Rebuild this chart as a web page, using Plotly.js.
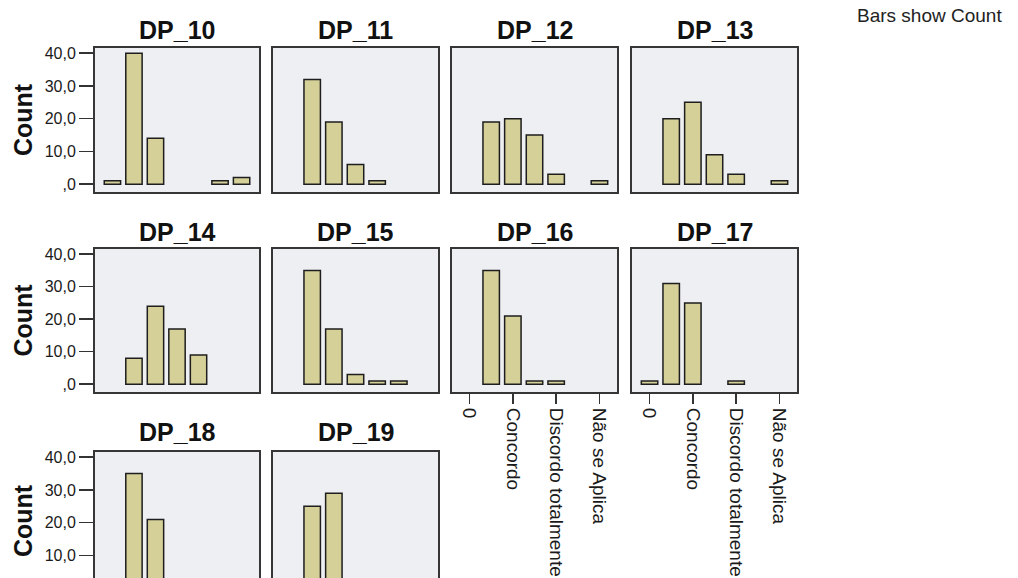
<!DOCTYPE html>
<html>
<head>
<meta charset="utf-8">
<script src="https://cdn.plot.ly/plotly-3.0.1.min.js"></script>
<style>
  html, body { margin: 0; padding: 0; background: #ffffff; overflow: hidden; }
  #chart { width: 1018px; height: 760px; }
</style>
</head>
<body>
<div id="chart"></div>
<script>
// ---- data (counts per response category) ----
const categories = ["0", "Concordo totalmente", "Concordo", "Indiferente", "Discordo totalmente", "Discordo", "Não se Aplica"];
const panelNames = ["DP_10", "DP_11", "DP_12", "DP_13", "DP_14", "DP_15", "DP_16", "DP_17", "DP_18", "DP_19"];
const DP_10 = [1, 40, 14, null, null, 1, 2];
const DP_11 = [null, 32, 19, 6, 1, null, null];
const DP_12 = [null, 19, 20, 15, 3, null, 1];
const DP_13 = [null, 20, 25, 9, 3, null, 1];
const DP_14 = [null, 8, 24, 17, 9, null, null];
const DP_15 = [null, 35, 17, 3, 1, 1, null];
const DP_16 = [null, 35, 21, 1, 1, null, null];
const DP_17 = [1, 31, 25, null, 1, null, null];
const DP_18 = [null, 35, 21, null, null, null, null];
const DP_19 = [null, 25, 29, null, null, null, null];
const yTickValues = [0, 10, 20, 30, 40];
const yTickLabels = [",0", "10,0", "20,0", "30,0", "40,0"];
const axisTitle = "Count";
const noteText = "Bars show Count";

const series = [DP_10, DP_11, DP_12, DP_13, DP_14, DP_15, DP_16, DP_17, DP_18, DP_19];

// ---- layout geometry (pixels in a 1018 x 760 figure; page shows top 578) ----
const W = 1018, H = 760;
const colPx = [[95, 259], [273, 438], [452, 617], [632, 797]];
const rowPx = [[48, 192], [249, 392], [452, 596]];
const titleY = [30, 232, 432];
const px2x = p => p / W;
const px2y = p => 1 - p / H;

const fontFam = '"Liberation Sans", Arial, sans-serif';
const traces = [];
const layout = {
  width: W, height: H,
  margin: {l: 0, r: 0, t: 0, b: 0},
  paper_bgcolor: '#ffffff',
  plot_bgcolor: '#eeeff3',
  showlegend: false,
  hovermode: false,
  font: {family: fontFam, color: '#1a1a1a'},
  annotations: []
};

const lastRow = rowPx.length - 1;
series.forEach((vals, i) => {
  const row = Math.floor(i / 4), col = i % 4;
  const n = i + 1;
  const xa = 'xaxis' + (n === 1 ? '' : n);
  const ya = 'yaxis' + (n === 1 ? '' : n);
  const xr = 'x' + (n === 1 ? '' : n);
  const yr = 'y' + (n === 1 ? '' : n);
  // is there another panel below this one?
  const below = i + 4 < series.length;
  // the last row's labels fall outside the visible page, as in the reference
  const showXLabels = !below && row !== lastRow;
  traces.push({
    type: 'bar',
    x: categories,
    y: vals,
    xaxis: xr, yaxis: yr,
    width: 0.76,
    marker: {color: '#d5cf98', line: {color: '#1e1e1e', width: 1.5}},
    hoverinfo: 'skip'
  });
  layout[xa] = {
    domain: [px2x(colPx[col][0]), px2x(colPx[col][1])],
    anchor: yr,
    type: 'category',
    categoryorder: 'array',
    categoryarray: categories,
    range: [-0.81, 6.81],
    showgrid: false, zeroline: false,
    showline: true, mirror: true, linecolor: '#363636', linewidth: 2,
    showticklabels: showXLabels,
    ticks: below ? '' : 'outside',
    tickmode: 'linear', tick0: 0, dtick: 2,
    ticklen: 10, tickwidth: 1.5, tickcolor: '#333',
    tickangle: 90,
    tickfont: {family: fontFam, size: 19, color: '#1a1a1a'},
    fixedrange: true
  };
  layout[ya] = {
    domain: [px2y(rowPx[row][1]), px2y(rowPx[row][0])],
    anchor: xr,
    range: [-2.4, 41.6],
    showgrid: false, zeroline: false,
    showline: true, mirror: true, linecolor: '#363636', linewidth: 2,
    showticklabels: col === 0,
    ticks: col === 0 ? 'outside' : '',
    tickmode: 'array', tickvals: yTickValues, ticktext: yTickLabels,
    ticklen: 14, tickwidth: 1.5, tickcolor: '#333',
    tickfont: {family: fontFam, size: 16, color: '#1a1a1a'},
    fixedrange: true
  };
  // panel title
  layout.annotations.push({
    text: '<b>' + panelNames[i] + '</b>',
    xref: 'paper', yref: 'paper',
    x: px2x((colPx[col][0] + colPx[col][1]) / 2), y: px2y(titleY[row]),
    xanchor: 'center', yanchor: 'middle', showarrow: false,
    font: {family: fontFam, size: 25, color: '#111'}
  });
  // row axis title
  if (col === 0) {
    layout.annotations.push({
      text: '<b>' + axisTitle + '</b>',
      xref: 'paper', yref: 'paper',
      x: px2x(23), y: px2y(row === lastRow ? 521 : (rowPx[row][0] + rowPx[row][1]) / 2),
      xanchor: 'center', yanchor: 'middle', showarrow: false,
      textangle: -90,
      font: {family: fontFam, size: 25, color: '#111'}
    });
  }
});

layout.annotations.push({
  text: noteText,
  xref: 'paper', yref: 'paper',
  x: px2x(855), y: px2y(15),
  xanchor: 'left', yanchor: 'middle', showarrow: false,
  font: {family: fontFam, size: 19, color: '#222'}
});

Plotly.newPlot('chart', traces, layout, {displayModeBar: false, staticPlot: true});
</script>
</body>
</html>
